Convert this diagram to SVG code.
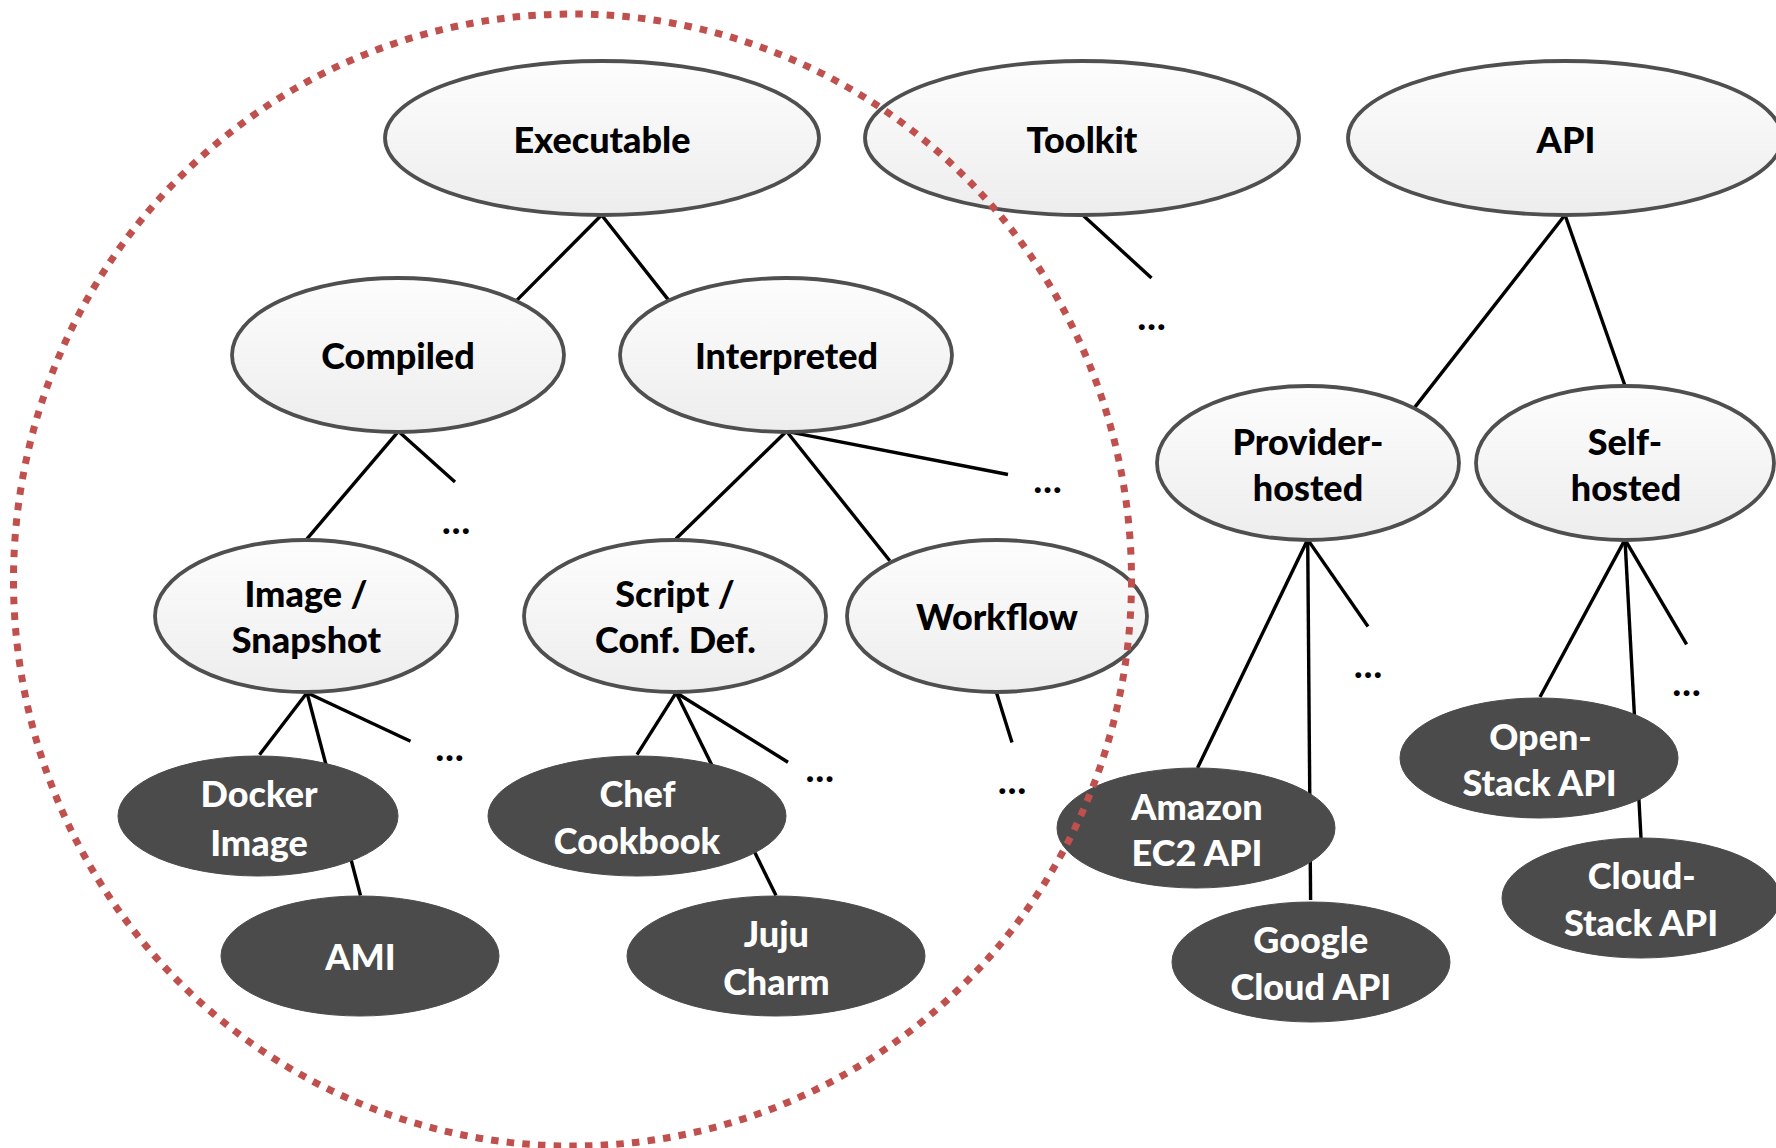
<svg xmlns="http://www.w3.org/2000/svg" width="1776" height="1148" viewBox="0 0 1776 1148">
<defs>
<linearGradient id="lg" x1="0" y1="0" x2="0" y2="1">
<stop offset="0" stop-color="#fdfdfd"/>
<stop offset="1" stop-color="#ededed"/>
</linearGradient>
<style>
.l{fill:url(#lg);stroke:#4f4f4f;stroke-width:3.8}
.d{fill:#4b4b4b;stroke:#4b4b4b;stroke-width:1}
.c line{stroke:#000;stroke-width:3.4;stroke-linecap:butt}
text{font-family:Lato,"Liberation Sans",sans-serif;font-weight:900;font-size:36px;text-anchor:middle}
.tl{fill:#000}
.td{fill:#fff}
.dots{fill:#000;font-size:34px}
.ring{fill:none;stroke:#c0504d;stroke-width:7;stroke-dasharray:7.5 8.2}
</style>
</defs>
<rect width="1776" height="1148" fill="#fff"/>
<g id="connectors" class="c">
<line x1="601.6" y1="215" x2="516.7" y2="300.4"/>
<line x1="601.6" y1="215" x2="668.8" y2="300.4"/>
<line x1="1082.7" y1="215" x2="1151.5" y2="278"/>
<line x1="1565" y1="215" x2="1414.5" y2="407.6"/>
<line x1="1565" y1="215" x2="1625" y2="385.8"/>
<line x1="398.4" y1="431.3" x2="307" y2="538.8"/>
<line x1="398.4" y1="431.3" x2="455" y2="482"/>
<line x1="786.5" y1="431.3" x2="676" y2="538.8"/>
<line x1="786.5" y1="431.3" x2="889.8" y2="560.7"/>
<line x1="786.5" y1="431.3" x2="1008" y2="474.5"/>
<line x1="1307.7" y1="539.6" x2="1197.5" y2="768"/>
<line x1="1307.7" y1="539.6" x2="1310.6" y2="900"/>
<line x1="1307.7" y1="539.6" x2="1368" y2="626.5"/>
<line x1="1625" y1="539.6" x2="1540" y2="697"/>
<line x1="1625" y1="539.6" x2="1641" y2="838"/>
<line x1="1625" y1="539.6" x2="1686.6" y2="644.4"/>
<line x1="307" y1="692.7" x2="259.5" y2="754.7"/>
<line x1="307" y1="692.7" x2="360.5" y2="895.5"/>
<line x1="307" y1="692.7" x2="410.5" y2="741.3"/>
<line x1="676.2" y1="692.7" x2="637" y2="754.7"/>
<line x1="676.2" y1="692.7" x2="776" y2="895.5"/>
<line x1="676.2" y1="692.7" x2="788" y2="762.3"/>
<line x1="996.5" y1="692.7" x2="1012" y2="742.4"/>
</g>
<g id="ellipsis-marks" class="dots">
<text x="456" y="534">…</text>
<text x="1047.5" y="493">…</text>
<text x="1151.5" y="330">…</text>
<text x="449.5" y="761">…</text>
<text x="819.8" y="782">…</text>
<text x="1012" y="794">…</text>
<text x="1368" y="678">…</text>
<text x="1686.6" y="696">…</text>
</g>
<g id="executable"><ellipse class="l" cx="602" cy="138" rx="217" ry="77"/><text class="tl" x="602" y="153">Executable</text></g>
<g id="toolkit"><ellipse class="l" cx="1082" cy="138" rx="217" ry="77"/><text class="tl" x="1082" y="153">Toolkit</text></g>
<g id="api"><ellipse class="l" cx="1565" cy="138" rx="217" ry="77"/><text class="tl" x="1566" y="153">API</text></g>
<g id="compiled"><ellipse class="l" cx="398" cy="355" rx="166" ry="77"/><text class="tl" x="398" y="369">Compiled</text></g>
<g id="interpreted"><ellipse class="l" cx="786" cy="355" rx="166" ry="77"/><text class="tl" x="786.5" y="369">Interpreted</text></g>
<g id="provider-hosted"><ellipse class="l" cx="1308" cy="463" rx="151" ry="77"/><text class="tl" x="1308" y="455">Provider-</text><text class="tl" x="1308" y="501">hosted</text></g>
<g id="self-hosted"><ellipse class="l" cx="1625" cy="463" rx="149" ry="77"/><text class="tl" x="1625" y="455">Self-</text><text class="tl" x="1626" y="501">hosted</text></g>
<g id="image-snapshot"><ellipse class="l" cx="306" cy="616" rx="151" ry="76"/><text class="tl" x="306" y="607">Image /</text><text class="tl" x="306.5" y="653">Snapshot</text></g>
<g id="script-conf"><ellipse class="l" cx="675" cy="616" rx="151" ry="76"/><text class="tl" x="675" y="607">Script /</text><text class="tl" x="675.4" y="653">Conf. Def.</text></g>
<g id="workflow"><ellipse class="l" cx="997" cy="616" rx="150" ry="76"/><text class="tl" x="997" y="630">Workflow</text></g>
<g id="docker-image"><ellipse class="d" cx="258" cy="816" rx="140" ry="60"/><text class="td" x="259" y="807">Docker</text><text class="td" x="259" y="855.6">Image</text></g>
<g id="chef-cookbook"><ellipse class="d" cx="637" cy="816" rx="149" ry="60"/><text class="td" x="637.5" y="807">Chef</text><text class="td" x="637" y="854">Cookbook</text></g>
<g id="ami"><ellipse class="d" cx="360" cy="956" rx="139" ry="60"/><text class="td" x="360.5" y="970">AMI</text></g>
<g id="juju-charm"><ellipse class="d" cx="776" cy="956" rx="149" ry="60"/><text class="td" x="776.4" y="947.4">Juju</text><text class="td" x="776.4" y="995">Charm</text></g>
<g id="amazon-ec2"><ellipse class="d" cx="1196" cy="828" rx="139" ry="60"/><text class="td" x="1197" y="820">Amazon</text><text class="td" x="1197" y="866.3">EC2 API</text></g>
<g id="google-cloud"><ellipse class="d" cx="1311" cy="962" rx="139" ry="60"/><text class="td" x="1310.8" y="953">Google</text><text class="td" x="1310.8" y="1000">Cloud API</text></g>
<g id="openstack"><ellipse class="d" cx="1539" cy="758" rx="139" ry="60"/><text class="td" x="1540.5" y="750">Open-</text><text class="td" x="1539.6" y="796">Stack API</text></g>
<g id="cloudstack"><ellipse class="d" cx="1641" cy="898" rx="139" ry="60"/><text class="td" x="1641.8" y="889">Cloud-</text><text class="td" x="1641" y="936">Stack API</text></g>
<g id="scope-ring"><ellipse class="ring" cx="572.5" cy="580" rx="559" ry="566"/></g>
</svg>
